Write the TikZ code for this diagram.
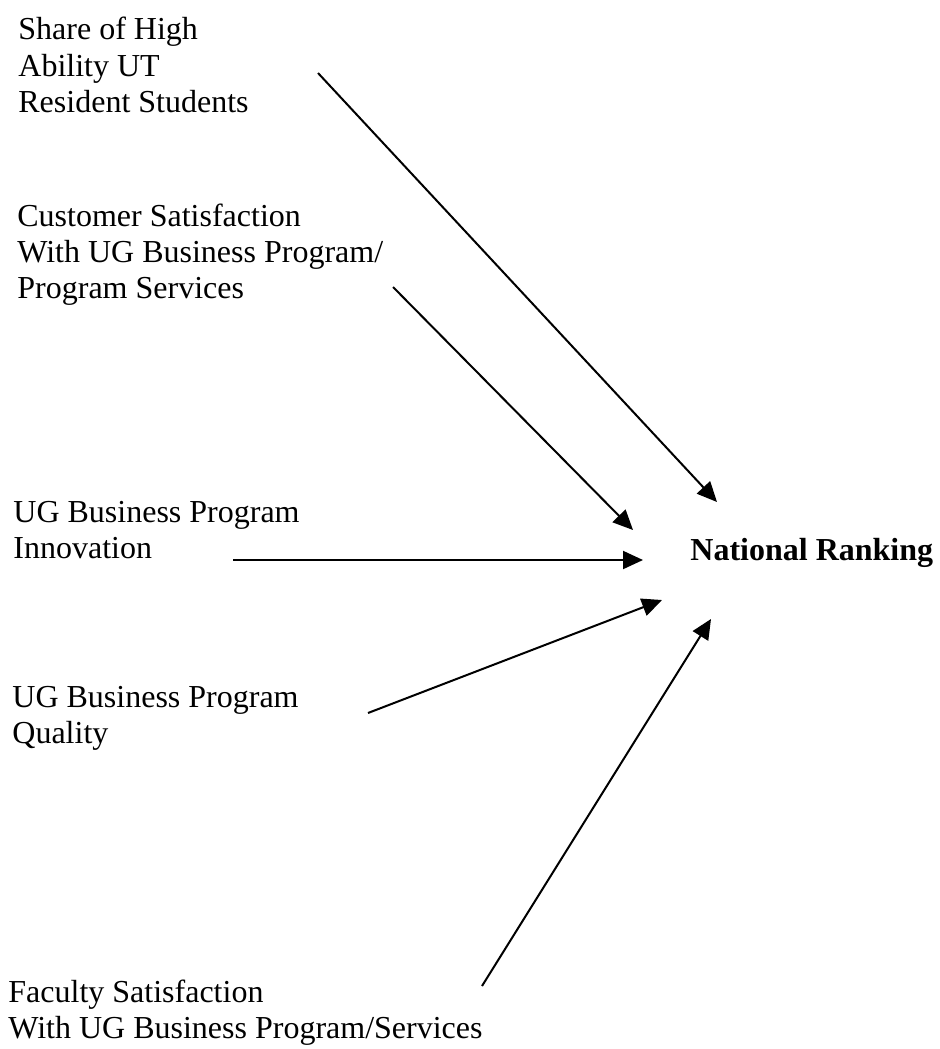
\documentclass[tikz,border=0pt]{standalone}
\usepackage{fontspec}
\setmainfont{Liberation Serif}
\usepackage{tikz}
\usetikzlibrary{arrows.meta}

\begin{document}
\begin{tikzpicture}[
  x=0.5pt, y=-0.5pt,
  driver/.style={anchor=base west, align=left, inner sep=0pt, font=\fontsize{16}{18}\selectfont},
  target/.style={anchor=base west, inner sep=0pt, font=\fontsize{16}{18}\selectfont\bfseries},
  arrow/.style={-{Triangle[length=10pt, width=9pt]}, line width=1pt}
]
  \useasboundingbox (0,0) rectangle (940,1049);

  % drivers on the left (placed at the baseline of their last line)
  \node[driver] (share) at (18,112) {Share of High\\Ability UT\\Resident Students};
  \node[driver] (custsat) at (17,298) {Customer Satisfaction\\With UG Business Program/\\Program Services};
  \node[driver] (innov) at (13,558) {UG Business Program\\Innovation};
  \node[driver] (quality) at (12,743) {UG Business Program\\Quality};
  \node[driver] (facsat) at (8,1038) {Faculty Satisfaction\\With UG Business Program/Services};

  \node[target] (rank) at (690,560) {National Ranking};

  % arrow ends
  \coordinate (share-out) at (318,73);
  \coordinate (custsat-out) at (393,287);
  \coordinate (innov-out) at (233,560);
  \coordinate (quality-out) at (368,713);
  \coordinate (facsat-out) at (482,986);
  \coordinate (rank-a) at (717,502);
  \coordinate (rank-b) at (633,530);
  \coordinate (rank-c) at (643,560);
  \coordinate (rank-d) at (662,600);
  \coordinate (rank-e) at (711,619);

  \draw[arrow] (share-out) -- (rank-a);
  \draw[arrow] (custsat-out) -- (rank-b);
  \draw[arrow] (innov-out) -- (rank-c);
  \draw[arrow] (quality-out) -- (rank-d);
  \draw[arrow] (facsat-out) -- (rank-e);
\end{tikzpicture}
\end{document}
